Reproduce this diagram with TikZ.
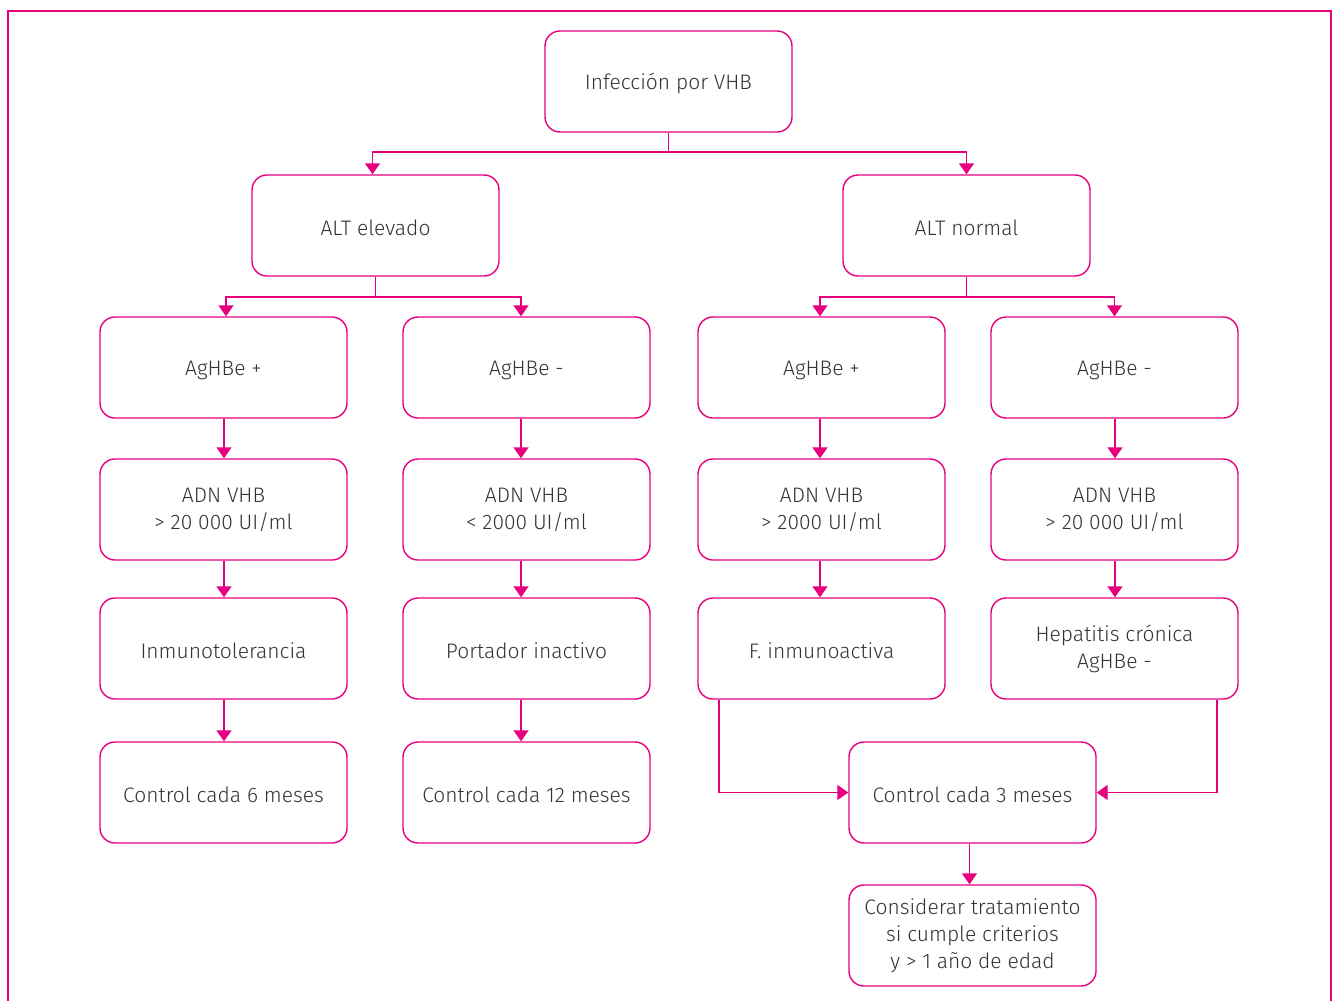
\documentclass[tikz,border=0pt]{standalone}
\usepackage{fontspec}
\setmainfont{Fira Sans Light}
\usetikzlibrary{arrows.meta}
\definecolor{mag}{HTML}{E6007E}
\definecolor{txt}{HTML}{333333}
\begin{document}
\begin{tikzpicture}[x=1pt,y=-1pt,
  box/.style={draw=mag,line width=1.4pt,rounded corners=15pt,minimum width=247pt,minimum height=101pt,
    align=center,text=txt,font=\fontsize{21}{27}\selectfont,inner sep=0pt,
    execute at begin node={\rule{0pt}{21pt}}},
  conn/.style={draw=mag,line width=1.4pt,-{Triangle[width=15pt,length=11pt]}},
  plain/.style={draw=mag,line width=1.4pt}]
\useasboundingbox (0,0) rectangle (1336,1001);
\draw[mag,line width=2pt] (8,1001) -- (8,11) -- (1331,11) -- (1331,1001);
\node[box] (top) at (668.5,81.5) {Infección por VHB};
\node[box] (alte) at (375.5,225.5) {ALT elevado};
\node[box] (altn) at (966.5,225.5) {ALT normal};
\node[box] (a1) at (223.5,367.5) {AgHBe +};
\node[box] (a2) at (526.5,367.5) {AgHBe -};
\node[box] (a3) at (821.5,367.5) {AgHBe +};
\node[box] (a4) at (1114.5,367.5) {AgHBe -};
\node[box] (d1) at (223.5,509.5) {ADN VHB\\> 20 000 UI/ml};
\node[box] (d2) at (526.5,509.5) {ADN VHB\\< 2000 UI/ml};
\node[box] (d3) at (821.5,509.5) {ADN VHB\\> 2000 UI/ml};
\node[box] (d4) at (1114.5,509.5) {ADN VHB\\> 20 000 UI/ml};
\node[box] (f1) at (223.5,648.5) {Inmunotolerancia};
\node[box] (f2) at (526.5,648.5) {Portador inactivo};
\node[box] (f3) at (821.5,648.5) {F. inmunoactiva};
\node[box] (f4) at (1114.5,648.5) {Hepatitis crónica\\AgHBe -};
\node[box] (c1) at (223.5,792.5) {Control cada 6 meses};
\node[box] (c2) at (526.5,792.5) {Control cada 12 meses};
\node[box] (c3) at (972.5,792.5) {Control cada 3 meses};
\node[box] (t) at (972.5,935.5) {Considerar tratamiento\\si cumple criterios\\y > 1 año de edad};
\coordinate (j0) at (668.5,152);
\coordinate (j1) at (375.5,297);
\coordinate (j2) at (966.5,297);
\draw[plain] (top.south) -- (j0);
\draw[conn] (j0) -| ([xshift=-3pt]alte.north);
\draw[conn] (j0) -| (altn.north);
\draw[plain] (alte.south) -- (j1);
\draw[conn] (j1) -| ([xshift=2.5pt]a1.north);
\draw[conn] (j1) -| ([xshift=-5.5pt]a2.north);
\draw[plain] (altn.south) -- (j2);
\draw[conn] (j2) -| ([xshift=-1.5pt]a3.north);
\draw[conn] (j2) -| (a4.north);
\foreach \a/\b/\s in {a1/d1/0.5,a2/d2/-5.5,a3/d3/-1.5,a4/d4/0.5,d1/f1/0.5,d2/f2/-5.5,d3/f3/-1.5,d4/f4/0.5,f1/c1/0.5,f2/c2/-5.5,c3/t/-3}
  \draw[conn] ([xshift=\s pt]\a.south) -- ([xshift=\s pt]\b.north);
\draw[conn] ([xshift=-102.5pt]f3.south) |- (c3.west);
\draw[conn] ([xshift=102.5pt]f4.south) |- (c3.east);
\end{tikzpicture}
\end{document}
